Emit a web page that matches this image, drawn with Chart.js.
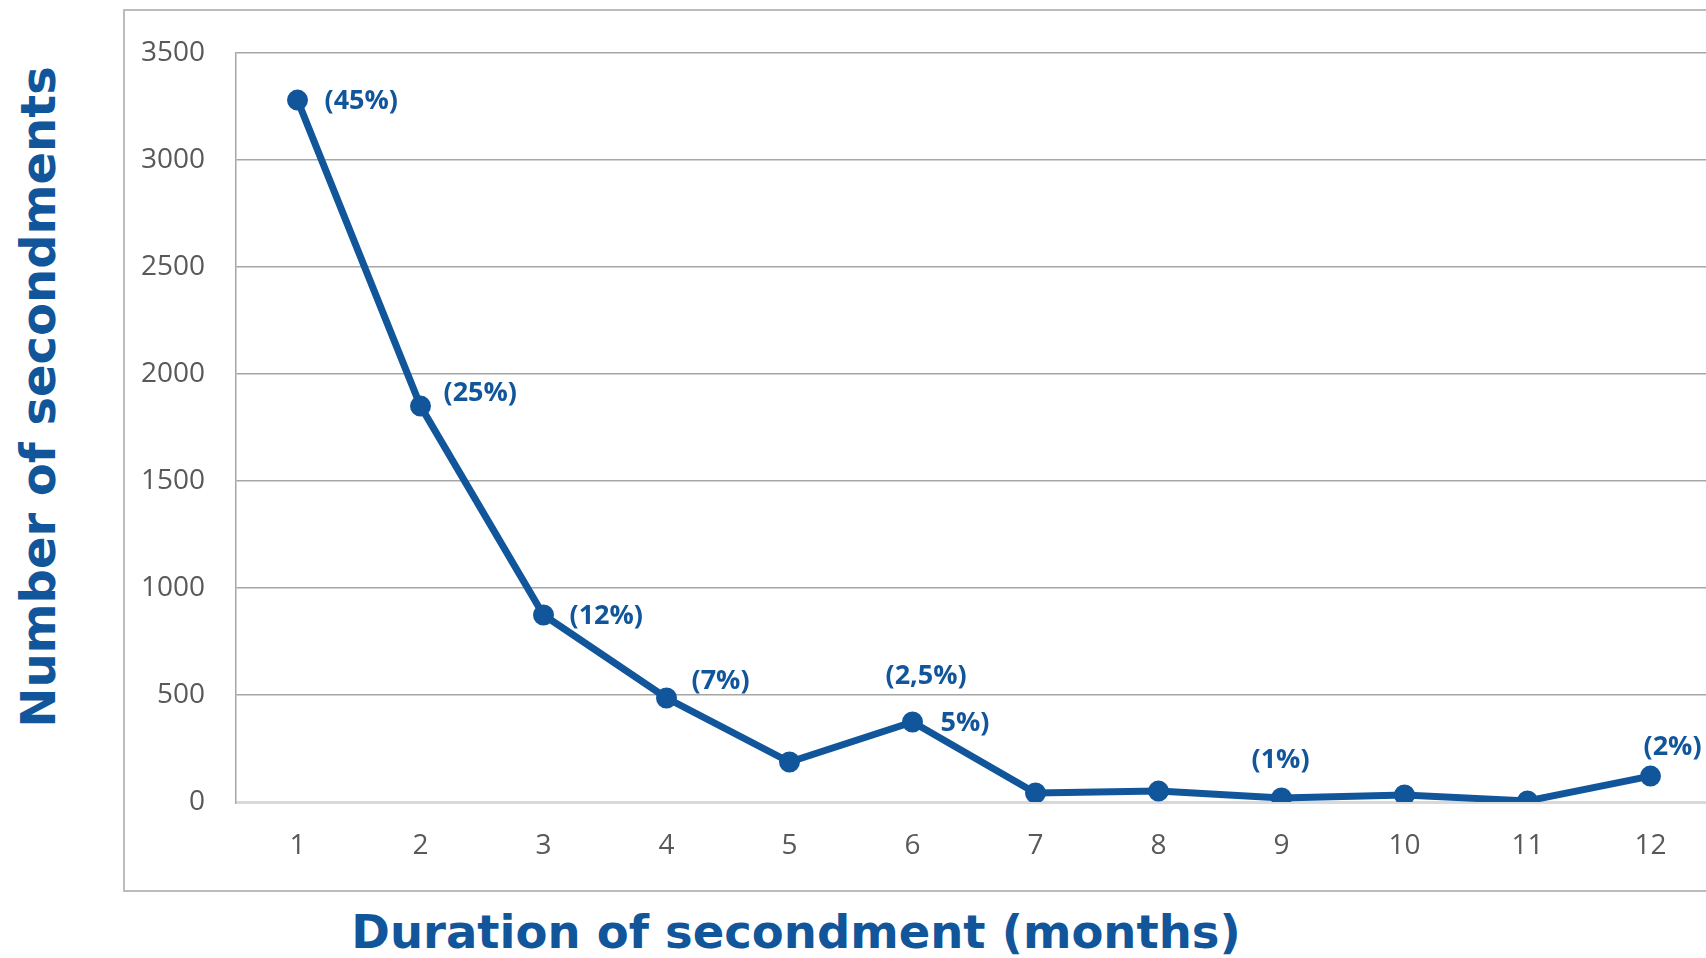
<!DOCTYPE html>
<html>
<head>
<meta charset="utf-8">
<script src="https://cdn.jsdelivr.net/npm/chart.js@4"></script>
<style>
  html,body{margin:0;padding:0;background:#fff;width:1706px;height:958px;overflow:hidden;position:relative;}
  #frame{position:absolute;left:123px;top:9px;width:1700px;height:879px;border:2px solid #bcbcbc;}
  #wrap{position:absolute;left:124px;top:10px;width:1620px;height:879px;}
  .ttl{position:absolute;font-family:'DejaVu Sans',sans-serif;font-weight:bold;color:#11559a;white-space:nowrap;line-height:1;}
  #ytitle{left:38px;top:397px;font-size:48px;transform:translate(-50%,-50%) rotate(-90deg);}
  #xtitle{left:796px;top:932px;font-size:46.5px;transform:translate(-50%,-50%);}
</style>
</head>
<body>
<div id="frame"></div>
<div id="wrap"><canvas id="c"></canvas></div>
<div class="ttl" id="ytitle">Number of secondments</div>
<div class="ttl" id="xtitle">Duration of secondment (months)</div>
<script>
'use strict';
// data
const months = ['1','2','3','4','5','6','7','8','9','10','11','12'];
const secondments = [3280, 1850, 874, 486, 187, 374, 42, 51, 19, 33, 5, 121];
const shares = ['(45%)','(25%)','(12%)','(7%)','(2,5%)','5%)','','','(1%)','','','(2%)'];
const yTicks = [0, 500, 1000, 1500, 2000, 2500, 3000, 3500];

// where each label sits relative to its point (px)
const labelOff = [[27,1],[23,-13],[26,1],[25,-17],[96,-86],[28,1],null,null,[-30,-38],null,null,[-7,-29]];

const BLUE = '#11559a';
const TXT = '#595959';

const shareLabels = {
  id:'shareLabels',
  afterDatasetsDraw(chart){
    const ctx = chart.ctx, pts = chart.getDatasetMeta(0).data;
    ctx.save();
    ctx.font = "bold 27px 'Open Sans', sans-serif";
    ctx.fillStyle = BLUE;
    ctx.textAlign = 'left';
    ctx.textBaseline = 'middle';
    shares.forEach((s,i)=>{
      if(!s || !labelOff[i]) return;
      ctx.fillText(s, pts[i].x + labelOff[i][0], pts[i].y + labelOff[i][1]);
    });
    ctx.restore();
  }
};

new Chart(document.getElementById('c'), {
  type:'line',
  data:{labels:months, datasets:[{
    data:secondments, borderColor:BLUE, backgroundColor:BLUE, borderWidth:7,
    pointRadius:9, pointBorderWidth:3, pointBackgroundColor:BLUE, pointBorderColor:BLUE,
    tension:0, fill:false
  }]},
  options:{
    responsive:true, maintainAspectRatio:false, animation:false,
    layout:{padding:{top:43, right:32, left:0, bottom:0}},
    plugins:{legend:{display:false}, tooltip:{enabled:false}},
    scales:{
      x:{
        offset:true,
        grid:{display:false, drawTicks:false},
        border:{display:false},
        ticks:{color:TXT, font:{family:"'Open Sans', sans-serif", size:28}, padding:27, maxRotation:0},
        afterFit(s){ s.height = 87; }
      },
      y:{
        min:0, max:3500,
        afterBuildTicks(s){ s.ticks = yTicks.map(v=>({value:v})); },
        grid:{drawTicks:false,
          color:c=>c.tick && c.tick.value===0 ? '#d9d9d9' : '#a6a6a6',
          lineWidth:c=>c.tick && c.tick.value===0 ? 3 : 1.5},
        border:{display:true, color:'#a6a6a6', width:1.5},
        ticks:{color:TXT, font:{family:"'Open Sans', sans-serif", size:28}, padding:31,
          callback:v=>String(v)},
        afterFit(s){ s.width = 112; s.paddingTop = 0; s.paddingBottom = 0; }
      }
    }
  },
  plugins:[shareLabels]
});
</script>
</body>
</html>
